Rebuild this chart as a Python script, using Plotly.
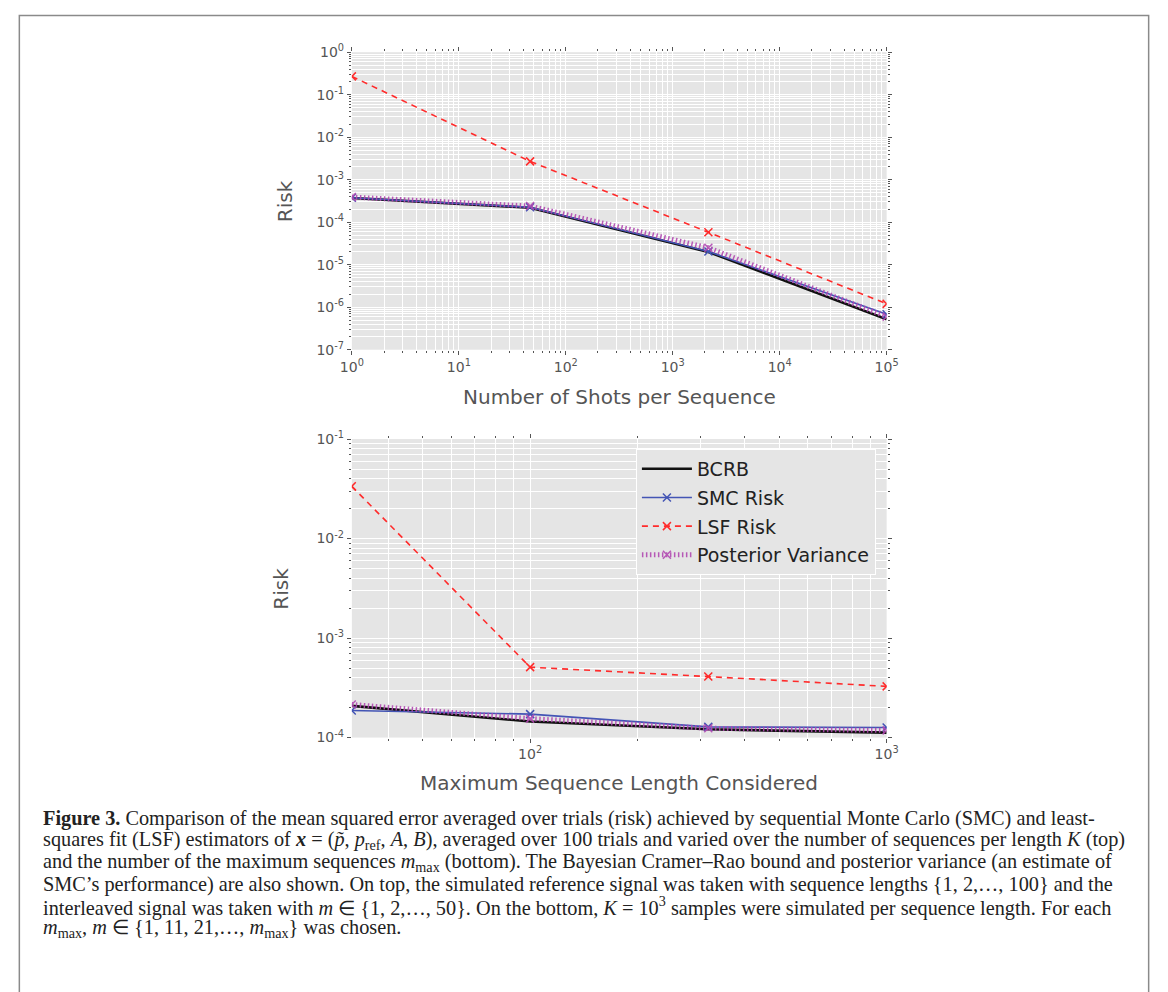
import plotly.graph_objects as go

# ---------------- data ----------------
shots = [1, 46.4, 2154, 100000]
top_bcrb = [3.7e-4, 2.2e-4, 2.0e-5, 5.2e-7]
top_smc = [3.75e-4, 2.25e-4, 2.05e-5, 6.8e-7]
top_lsf = [2.7e-1, 2.7e-3, 5.8e-5, 1.2e-6]
top_post = [3.9e-4, 2.4e-4, 2.5e-5, 6.0e-7]

mmax = [31.6, 100, 316, 1000]
bot_bcrb = [2.08e-4, 1.45e-4, 1.21e-4, 1.12e-4]
bot_smc = [1.87e-4, 1.72e-4, 1.28e-4, 1.26e-4]
bot_lsf = [3.35e-2, 5.1e-4, 4.1e-4, 3.27e-4]
bot_post = [2.15e-4, 1.55e-4, 1.24e-4, 1.18e-4]

series_names = ["BCRB", "SMC Risk", "LSF Risk", "Posterior Variance"]

top_xticks = [1, 10, 100, 1000, 10000, 100000]
top_xticktext = ["10<sup>0</sup>", "10<sup>1</sup>", "10<sup>2</sup>", "10<sup>3</sup>",
                 "10<sup>4</sup>", "10<sup>5</sup>"]
top_yticks = [1, 1e-1, 1e-2, 1e-3, 1e-4, 1e-5, 1e-6, 1e-7]
top_yticktext = ["10<sup>0</sup>", "10<sup>-1</sup>", "10<sup>-2</sup>", "10<sup>-3</sup>",
                 "10<sup>-4</sup>", "10<sup>-5</sup>", "10<sup>-6</sup>", "10<sup>-7</sup>"]
bot_xticks = [100, 1000]
bot_xticktext = ["10<sup>2</sup>", "10<sup>3</sup>"]
bot_yticks = [1e-1, 1e-2, 1e-3, 1e-4]
bot_yticktext = ["10<sup>-1</sup>", "10<sup>-2</sup>", "10<sup>-3</sup>", "10<sup>-4</sup>"]

caption_lines = [
    "<b>Figure 3.</b> Comparison of the mean squared error averaged over trials (risk) achieved by sequential Monte Carlo (SMC) and least-",
    "squares fit (LSF) estimators of <b><i>x</i></b> = (<i>p̃</i>, <i>p</i><sub>ref</sub>, <i>A</i>, <i>B</i>), averaged over 100 trials and varied over the number of sequences per length <i>K</i> (top)",
    "and the number of the maximum sequences <i>m</i><sub>max</sub> (bottom). The Bayesian Cramer–Rao bound and posterior variance (an estimate of",
    "SMC’s performance) are also shown. On top, the simulated reference signal was taken with sequence lengths {1, 2,…, 100} and the",
    "interleaved signal was taken with <i>m</i> ∈ {1, 2,…, 50}. On the bottom, <i>K</i> = 10<sup>3</sup> samples were simulated per sequence length. For each",
    "<i>m</i><sub>max</sub>, <i>m</i> ∈ {1, 11, 21,…, <i>m</i><sub>max</sub>} was chosen.",
]

# ---------------- layout geometry ----------------
W, H = 1168, 992
def px(x):
    return x / W
def py(y):
    return 1 - y / H

X0, X1 = 347, 893
TOP_Y0, TOP_Y1 = 43, 346
BOT_Y0, BOT_Y1 = 437, 741

C_BCRB = "#111111"
C_SMC = "#4455B5"
C_LSF = "#FF2B2B"
C_POST = "#B24AB2"

fig = go.Figure()

def add_series(x, ys, xa, ya, show):
    b, s, l, p = ys
    fig.add_trace(go.Scatter(x=x, y=b, mode="lines", name=series_names[0],
                             line=dict(color=C_BCRB, width=2.6), xaxis=xa, yaxis=ya,
                             showlegend=show, legendgroup="a"))
    fig.add_trace(go.Scatter(x=x, y=s, mode="lines+markers", name=series_names[1],
                             line=dict(color=C_SMC, width=1.6), xaxis=xa, yaxis=ya,
                             marker=dict(symbol="x-thin", size=8, line=dict(color=C_SMC, width=1.5)),
                             showlegend=show, legendgroup="b"))
    fig.add_trace(go.Scatter(x=x, y=l, mode="lines+markers", name=series_names[2],
                             line=dict(color=C_LSF, width=1.6, dash="6px,5px"), xaxis=xa, yaxis=ya,
                             marker=dict(symbol="x-thin", size=8, line=dict(color=C_LSF, width=1.5)),
                             showlegend=show, legendgroup="c"))
    fig.add_trace(go.Scatter(x=x, y=p, mode="lines+markers", name=series_names[3],
                             line=dict(color=C_POST, width=5, dash="1.5px,2.5px"), xaxis=xa, yaxis=ya,
                             marker=dict(symbol="x-thin", size=8, line=dict(color=C_POST, width=1.5)),
                             opacity=0.9, showlegend=show, legendgroup="d"))

add_series(shots, [top_bcrb, top_smc, top_lsf, top_post], "x", "y", False)
add_series(mmax, [bot_bcrb, bot_smc, bot_lsf, bot_post], "x2", "y2", True)

TICKFONT = dict(family="DejaVu Sans", size=14, color="#555555")
common = dict(type="log", showgrid=True, gridcolor="white", gridwidth=1, zeroline=False,
              showline=False, ticks="outside", ticklen=4, tickwidth=1, tickcolor="#555555",
              mirror="allticks", tickfont=TICKFONT,
              minor=dict(ticks="outside", ticklen=2, tickwidth=1, tickcolor="#555555",
                         showgrid=True, gridcolor="white", gridwidth=0.8, dtick="D1"))

fig.update_layout(
    width=W, height=H,
    margin=dict(l=0, r=0, t=0, b=0),
    paper_bgcolor="white",
    plot_bgcolor="#E5E5E5",
    xaxis=dict(common, domain=[px(X0), px(X1)], range=[0, 5], anchor="y",
               tickvals=top_xticks, ticktext=top_xticktext),
    yaxis=dict(common, domain=[py(TOP_Y1), py(TOP_Y0)], range=[-7, 0], anchor="x",
               tickvals=top_yticks, ticktext=top_yticktext),
    xaxis2=dict(common, domain=[px(X0), px(X1)], range=[1.5, 3], anchor="y2",
                tickvals=bot_xticks, ticktext=bot_xticktext),
    yaxis2=dict(common, domain=[py(BOT_Y1), py(BOT_Y0)], range=[-4, -1], anchor="x2",
                tickvals=bot_yticks, ticktext=bot_yticktext),
    legend=dict(x=px(637), y=py(447), xanchor="left", yanchor="top",
                bgcolor="#E5E5E5", bordercolor="white", borderwidth=1,
                font=dict(family="DejaVu Sans", size=19, color="#222222"),
                itemwidth=50, tracegroupgap=1),
    showlegend=True,
)

TITLEFONT = dict(family="DejaVu Sans", size=20, color="#555555")
ann = [
    dict(text="Number of Shots per Sequence", x=px((X0 + X1) / 2), y=py(394)),
    dict(text="Maximum Sequence Length Considered", x=px((X0 + X1) / 2), y=py(787)),
    dict(text="Risk", x=px(279), y=py((TOP_Y0 + TOP_Y1) / 2), textangle=-90),
    dict(text="Risk", x=px(275), y=py((BOT_Y0 + BOT_Y1) / 2), textangle=-90),
]
for a in ann:
    fig.add_annotation(xref="paper", yref="paper", showarrow=False,
                       xanchor="center", yanchor="middle", font=TITLEFONT, **a)

CAP_Y0, CAP_DY = 823, 22.5
for i, line in enumerate(caption_lines):
    fig.add_annotation(xref="paper", yref="paper", showarrow=False,
                       x=px(30), y=py(CAP_Y0 + i * CAP_DY), xanchor="left", yanchor="middle",
                       text=line, font=dict(family="Liberation Serif", size=20.3, color="#222222"))

fig.add_shape(type="rect", xref="paper", yref="paper",
              x0=px(7.5), x1=px(1160.5), y0=-0.05, y1=py(5.5),
              line=dict(color="#8a8a8a", width=1.5), fillcolor="rgba(0,0,0,0)", layer="below")

post = (
    "document.documentElement.style.margin='0';"
    "document.documentElement.style.overflow='hidden';"
    "document.body.style.margin='0';"
    "document.body.style.overflow='hidden';"
)
fig.write_html("out.html", config={"displayModeBar": False}, post_script=post)
